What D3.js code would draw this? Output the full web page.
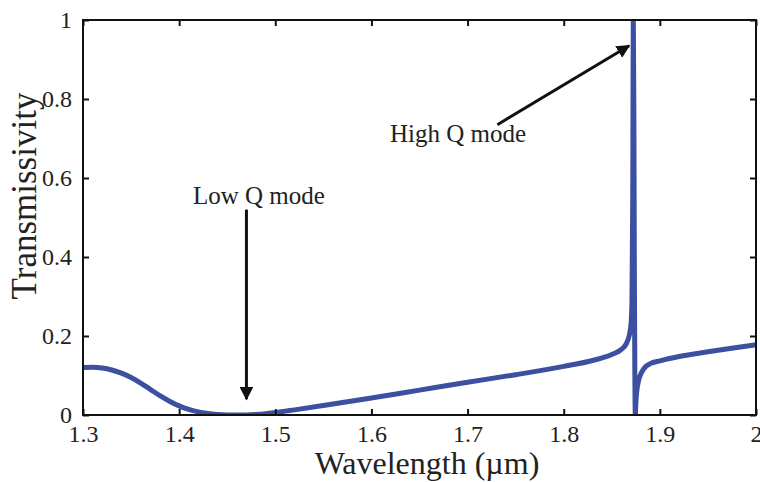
<!DOCTYPE html>
<html>
<head>
<meta charset="utf-8">
<script src="https://cdn.jsdelivr.net/npm/d3@7"></script>
<style>
  body { margin: 0; background: #fff; }
  text { font-family: "Liberation Serif", "Times New Roman", serif; fill: #222; }
</style>
</head>
<body>
<div id="viz"></div>
<script>
// data
var wavelength = [1.30, 1.31, 1.32, 1.33, 1.34, 1.35, 1.36, 1.37, 1.38, 1.39,
  1.40, 1.41, 1.42, 1.43, 1.44, 1.45, 1.46, 1.47, 1.48, 1.49, 1.50, 1.52,
  1.55, 1.60, 1.65, 1.70, 1.75, 1.80, 1.83, 1.85, 1.86, 1.865, 1.868, 1.870,
  1.871, 1.8718, 1.8724, 1.873, 1.8735, 1.874, 1.8745, 1.875, 1.876, 1.878,
  1.881, 1.885, 1.89, 1.90, 1.92, 1.95, 1.98, 2.00];
var transmissivity = [0.120, 0.121, 0.119, 0.114, 0.106, 0.095, 0.081, 0.065, 0.049, 0.035,
  0.023, 0.014, 0.008, 0.004, 0.001, 0.000, 0.000, 0.000, 0.001, 0.003, 0.006, 0.013,
  0.024, 0.043, 0.063, 0.083, 0.102, 0.123, 0.138, 0.153, 0.166, 0.180, 0.200, 0.23,
  0.29, 0.55, 1.00, 0.75, 0.35, 0.10, 0.00, 0.03, 0.06, 0.088,
  0.108, 0.122, 0.130, 0.137, 0.148, 0.160, 0.171, 0.178];
var xTicks = [1.3, 1.4, 1.5, 1.6, 1.7, 1.8, 1.9, 2.0];
var yTicks = [0, 0.2, 0.4, 0.6, 0.8, 1];
// annotations in data units: label position, arrow start and end
var lowQ = {label: 'Low Q mode', tx: 1.483, ty: 0.535, x1: 1.47, y1: 0.52, x2: 1.47, y2: 0.04};
var highQ = {label: 'High Q mode', tx: 1.69, ty: 0.69, x1: 1.731, y1: 0.735, x2: 1.868, y2: 0.935};

var width = 760, height = 482;
var pLeft = 83, pRight = 756, pTop = 20, pBottom = 415;

var svg = d3.select('#viz').append('svg')
  .attr('width', width)
  .attr('height', height);

var x = d3.scaleLinear().domain([1.3, 2.0]).range([pLeft, pRight]);
var y = d3.scaleLinear().domain([0, 1]).range([pBottom, pTop]);

svg.append('clipPath').attr('id', 'clip')
  .append('rect')
  .attr('x', pLeft).attr('y', pTop)
  .attr('width', pRight - pLeft).attr('height', pBottom - pTop);

// the curve
var line = d3.line()
  .x(function(d, i) { return x(wavelength[i]); })
  .y(function(d) { return y(d); })
  .curve(d3.curveMonotoneX);

svg.append('path')
  .datum(transmissivity)
  .attr('d', line)
  .attr('clip-path', 'url(#clip)')
  .attr('fill', 'none')
  .attr('stroke', '#3c4fa0')
  .attr('stroke-width', 5)
  .attr('stroke-linejoin', 'round');

// axes, ticks pointing inwards on all four sides
function styleAxis(g) {
  g.select('.domain').remove();
  g.selectAll('.tick line').attr('stroke', '#111').attr('stroke-width', 2);
}

svg.append('g')
  .attr('transform', 'translate(0,' + pBottom + ')')
  .call(d3.axisBottom(x).tickValues(xTicks).tickSizeInner(-6).tickSizeOuter(0)
    .tickPadding(10).tickFormat(d3.format('')))
  .call(styleAxis)
  .selectAll('text').style('font-size', '24px').attr('fill', '#222');

svg.append('g')
  .attr('transform', 'translate(0,' + pTop + ')')
  .call(d3.axisTop(x).tickValues(xTicks).tickSizeInner(-6).tickSizeOuter(0).tickFormat(''))
  .call(styleAxis);

svg.append('g')
  .attr('transform', 'translate(' + pLeft + ',0)')
  .call(d3.axisLeft(y).tickValues(yTicks).tickSizeInner(-6).tickSizeOuter(0)
    .tickPadding(11).tickFormat(d3.format('')))
  .call(styleAxis)
  .selectAll('text').style('font-size', '24px').attr('fill', '#222');

svg.append('g')
  .attr('transform', 'translate(' + pRight + ',0)')
  .call(d3.axisRight(y).tickValues(yTicks).tickSizeInner(-6).tickSizeOuter(0).tickFormat(''))
  .call(styleAxis);

// frame
svg.append('rect')
  .attr('x', pLeft).attr('y', pTop)
  .attr('width', pRight - pLeft).attr('height', pBottom - pTop)
  .attr('fill', 'none')
  .attr('stroke', '#111')
  .attr('stroke-width', 2);

// axis labels
svg.append('text')
  .attr('x', 427).attr('y', 474)
  .attr('text-anchor', 'middle')
  .style('font-size', '32px')
  .text('Wavelength (\u00b5m)');

svg.append('text')
  .attr('transform', 'translate(36,' + 196 + ') rotate(-90)')
  .attr('text-anchor', 'middle')
  .style('font-size', '35px')
  .text('Transmissivity');

// arrows
svg.append('defs').append('marker')
  .attr('id', 'head')
  .attr('viewBox', '0 0 10 10')
  .attr('refX', 9).attr('refY', 5)
  .attr('markerWidth', 4.5).attr('markerHeight', 4.5)
  .attr('markerUnits', 'strokeWidth')
  .attr('orient', 'auto')
  .append('path')
  .attr('d', 'M0,0 L10,5 L0,10 z')
  .attr('fill', '#111');

[lowQ, highQ].forEach(function(a) {
  svg.append('line')
    .attr('x1', x(a.x1)).attr('y1', y(a.y1))
    .attr('x2', x(a.x2)).attr('y2', y(a.y2))
    .attr('stroke', '#111')
    .attr('stroke-width', 3)
    .attr('marker-end', 'url(#head)');
  svg.append('text')
    .attr('x', x(a.tx)).attr('y', y(a.ty))
    .attr('text-anchor', 'middle')
    .style('font-size', '25px')
    .text(a.label);
});
</script>
</body>
</html>
